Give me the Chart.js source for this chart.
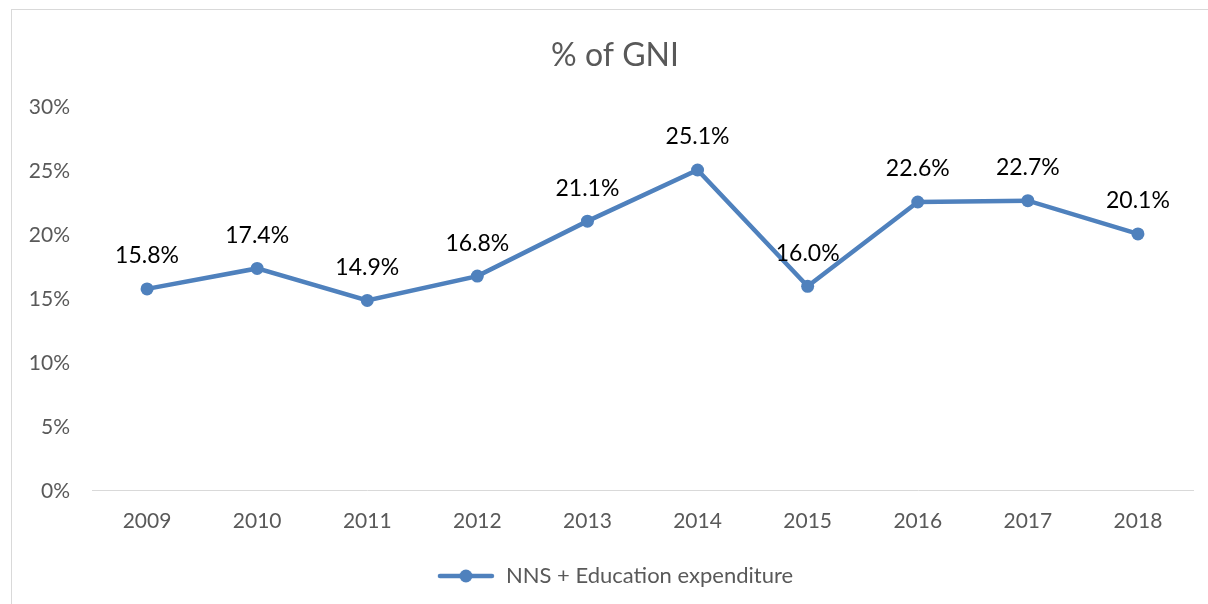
<!DOCTYPE html>
<html>
<head>
<meta charset="utf-8">
<script src="https://cdn.jsdelivr.net/npm/chart.js@4.4.1/dist/chart.umd.min.js"></script>
<style>
  html, body { margin: 0; padding: 0; background: #fff; }
  body { width: 1208px; height: 604px; position: relative; overflow: hidden; }
  #cadre { position: absolute; left: 11px; top: 9px; width: 1210px; height: 610px; border: 1px solid #d9d9d9; box-sizing: border-box; }
  #zone { position: absolute; left: 11px; top: 0; width: 1208px; height: 604px; }
</style>
</head>
<body>
<div id="cadre"></div>
<div id="zone"><canvas id="graphique"></canvas></div>
<script>
// Données du graphique
const annees = ["2009", "2010", "2011", "2012", "2013", "2014", "2015", "2016", "2017", "2018"];
const depenses = [15.8, 17.4, 14.9, 16.8, 21.1, 25.1, 16.0, 22.6, 22.7, 20.1];
const nomSerie = "NNS + Education expenditure";
const titre = "% of GNI";

const bleu = "#4f81bd";
const gris = "#595959";
const police = "Lato, 'Open Sans', sans-serif";

// Petit symbole de légende : trait + rond
const symbole = document.createElement("canvas");
symbole.width = 58;
symbole.height = 16;
const sctx = symbole.getContext("2d");
sctx.strokeStyle = bleu;
sctx.lineWidth = 4.5;
sctx.lineCap = "round";
sctx.beginPath();
sctx.moveTo(3, 8);
sctx.lineTo(55, 8);
sctx.stroke();
sctx.fillStyle = bleu;
sctx.beginPath();
sctx.arc(29, 8, 6.5, 0, Math.PI * 2);
sctx.fill();

// Étiquettes de valeurs au-dessus des points
const etiquettes = {
  id: "etiquettes",
  afterDatasetsDraw(chart) {
    const ctx = chart.ctx;
    const meta = chart.getDatasetMeta(0);
    ctx.save();
    ctx.font = "23px " + police;
    ctx.fillStyle = "#000";
    ctx.textAlign = "center";
    ctx.textBaseline = "middle";
    meta.data.forEach((pt, i) => {
      ctx.fillText(depenses[i].toFixed(1) + "%", pt.x, pt.y - 33);
    });
    ctx.restore();
  }
};

new Chart(document.getElementById("graphique"), {
  type: "line",
  data: {
    labels: annees,
    datasets: [{
      label: nomSerie,
      data: depenses,
      borderColor: bleu,
      backgroundColor: bleu,
      borderWidth: 4.5,
      pointStyle: "circle",
      pointRadius: 6.5,
      pointHoverRadius: 6.5,
      pointBackgroundColor: bleu,
      pointBorderWidth: 0,
      tension: 0
    }]
  },
  options: {
    responsive: true,
    maintainAspectRatio: false,
    animation: false,
    layout: {
      padding: { top: 20, right: 0, bottom: 7, left: 0 }
    },
    scales: {
      x: {
        offset: true,
        grid: { display: false, drawTicks: false },
        border: { display: true, color: "#d9d9d9", width: 1 },
        afterFit(scale) { scale.height -= 3; },
        ticks: {
          color: gris,
          padding: 18,
          font: { size: 21, family: police }
        }
      },
      y: {
        min: 0,
        max: 30,
        grid: { display: false, drawTicks: false },
        border: { display: false },
        afterFit(scale) { scale.width = 81; },
        ticks: {
          stepSize: 5,
          color: gris,
          padding: 22,
          font: { size: 21, family: police },
          callback: v => v + "%"
        }
      },
      // axe vide à droite, juste pour la marge
      marge: {
        position: "right",
        min: 0,
        max: 30,
        grid: { display: false, drawTicks: false },
        border: { display: false },
        ticks: { display: false },
        afterFit(scale) { scale.width = 26; }
      }
    },
    plugins: {
      title: {
        display: true,
        text: titre,
        color: gris,
        font: { size: 32, family: police, weight: "normal" },
        padding: { top: 16, bottom: 33 }
      },
      legend: {
        position: "bottom",
        labels: {
          color: gris,
          font: { size: 22, family: police },
          usePointStyle: true,
          pointStyleWidth: 58,
          padding: 16,
          generateLabels: chart => [{
            text: nomSerie,
            pointStyle: symbole,
            fontColor: gris,
            datasetIndex: 0
          }]
        }
      },
      tooltip: { enabled: false }
    }
  },
  plugins: [etiquettes]
});
</script>
</body>
</html>
